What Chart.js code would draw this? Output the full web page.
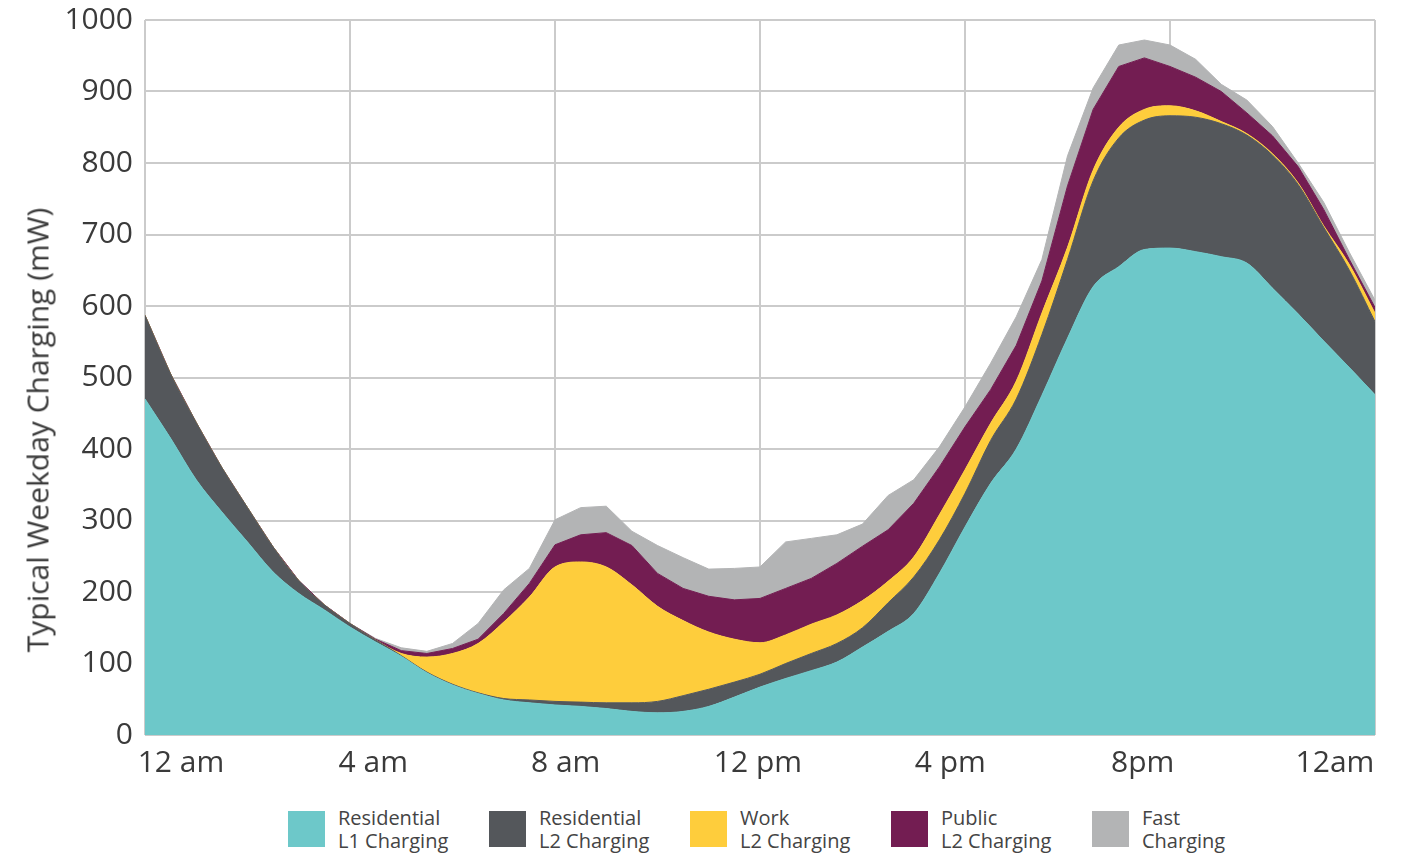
<!DOCTYPE html>
<html>
<head>
<meta charset="utf-8">
<script src="https://cdn.jsdelivr.net/npm/chart.js@4.4.1/dist/chart.umd.min.js"></script>
<style>
    body { margin: 0; background: #fff; font-family: "Open Sans", sans-serif; }
    #wrap { position: relative; width: 1403px; height: 800px; }
    #yTitle {
        position: absolute; left: 37px; top: 430px;
        transform: translate(-50%, -50%) rotate(-90deg);
        white-space: nowrap; font-size: 30px; color: #3a3a3a;
    }
    #legend { position: absolute; top: 806px; left: 288px; display: flex; }
    .item { display: flex; align-items: center; width: 201px; }
    .sw { width: 37px; height: 36px; margin-right: 13px; flex: none; }
    .txt { font-size: 20px; line-height: 23px; color: #444; }
</style>
</head>
<body>
<div id="wrap">
    <canvas id="chargingChart"></canvas>
    <div id="yTitle">Typical Weekday Charging (mW)</div>
</div>
<div id="legend"></div>

<script>
// hour of day, every half hour
const hours = [0, 0.5, 1, 1.5, 2, 2.5, 3, 3.5, 4, 4.5, 5, 5.5, 6, 6.5, 7, 7.5, 8, 8.5, 9, 9.5,
    10, 10.5, 11, 11.5, 12, 12.5, 13, 13.5, 14, 14.5, 15, 15.5, 16, 16.5, 17, 17.5, 18, 18.5,
    19, 19.5, 20, 20.5, 21, 21.5, 22, 22.5, 23, 23.5, 24];

const xTickLabels = ["12 am", "4 am", "8 am", "12 pm", "4 pm", "8pm", "12am"];

// values in mW (each layer's own thickness)
const residentialL1 = [470, 415, 357, 312, 270, 228, 198, 175, 151, 130, 110, 87, 70, 58, 49, 45, 42, 40, 37, 33,
    31, 33, 40, 53, 67, 79, 90, 102, 123, 145, 170, 226, 291, 352, 400, 475, 555, 627,
    655, 679, 681, 676, 669, 660, 625, 589, 551, 514, 476];
const residentialL2 = [117, 90, 80, 62, 48, 35, 18, 7, 5, 3, 1, 1, 1, 1, 2, 4, 5, 6, 8, 12,
    16, 22, 24, 21, 18, 21, 24, 26, 27, 40, 51, 47, 47, 60, 70, 85, 110, 148,
    180, 181, 185, 188, 186, 179, 186, 181, 159, 136, 102];
const workL2 = [0, 0, 0, 0, 0, 0, 0, 0, 0, 0, 3, 21, 43, 69, 107, 144, 188, 196, 190, 165,
    133, 105, 80, 60, 44, 40, 41, 40, 38, 30, 28, 35, 33, 24, 25, 30, 17, 15,
    15, 15, 14, 9, 3, 2, 2, 2, 2, 8, 12];
const publicL2 = [0, 0, 0, 0, 0, 0, 0, 0, 0, 1, 4, 5, 7, 6, 12, 19, 31, 38, 48, 55,
    46, 45, 50, 55, 62, 65, 64, 72, 76, 72, 75, 67, 60, 47, 50, 45, 86, 85,
    85, 72, 55, 47, 42, 29, 25, 23, 23, 7, 8];
const fastCharging = [0, 0, 0, 0, 0, 0, 0, 0, 0, 1, 4, 3, 7, 22, 33, 21, 35, 38, 37, 20,
    39, 43, 38, 44, 44, 65, 56, 40, 31, 48, 33, 28, 28, 37, 40, 30, 42, 30,
    30, 25, 30, 25, 10, 18, 13, 5, 10, 10, 10];

const series = [
    { name: ["Residential", "L1 Charging"], data: residentialL1, color: "#6dc8c9", smooth: true },
    { name: ["Residential", "L2 Charging"], data: residentialL2, color: "#54575b", smooth: true },
    { name: ["Work", "L2 Charging"], data: workL2, color: "#fecd3c", smooth: true },
    { name: ["Public", "L2 Charging"], data: publicL2, color: "#731d52", smooth: false },
    { name: ["Fast", "Charging"], data: fastCharging, color: "#b3b4b5", smooth: false }
];

const gridColor = "#cbcbcb";
const textColor = "#3a3a3a";
const tickFont = { family: "'Open Sans', sans-serif", size: 30 };

const ctx = document.getElementById("chargingChart").getContext("2d");
const chargingChart = new Chart(ctx, {
    type: "line",
    data: {
        labels: hours,
        datasets: series.map((s, i) => ({
            label: s.name.join(" "),
            data: s.data,
            backgroundColor: s.color,
            borderColor: s.color,
            borderWidth: 1,
            pointRadius: 0,
            cubicInterpolationMode: s.smooth ? "monotone" : "default",
            tension: s.smooth ? 0.4 : 0,
            fill: i === 0 ? "origin" : "-1"
        }))
    },
    options: {
        responsive: true,
        maintainAspectRatio: false,
        animation: false,
        layout: { padding: { top: 20, right: 28, left: 0, bottom: 0 } },
        plugins: {
            legend: { display: false },
            tooltip: { enabled: false }
        },
        scales: {
            x: {
                type: "linear",
                min: 0,
                max: 24,
                ticks: { display: false, stepSize: 4 },
                grid: { color: gridColor, lineWidth: 2, drawTicks: false },
                border: { display: false },
                afterFit: (scale) => { scale.height = 0; }
            },
            xl: {
                type: "linear",
                position: "bottom",
                min: -0.187,
                max: 6.208,
                grid: { display: false, drawTicks: false },
                border: { display: false },
                ticks: {
                    font: tickFont,
                    color: textColor,
                    padding: 10,
                    maxRotation: 0,
                    autoSkip: false,
                    callback: (v) => xTickLabels[v]
                },
                afterBuildTicks: (scale) => {
                    scale.ticks = xTickLabels.map((t, i) => ({ value: i }));
                },
                afterFit: (scale) => { scale.height = 65; }
            },
            y: {
                stacked: true,
                min: 0,
                max: 1000,
                ticks: {
                    stepSize: 100,
                    font: tickFont,
                    color: textColor,
                    padding: 12,
                    callback: (v) => String(v)
                },
                grid: { color: gridColor, lineWidth: 2, drawTicks: false },
                border: { display: false },
                afterFit: (scale) => {
                    scale.width = 145;
                    scale.paddingTop = 0;
                    scale.paddingBottom = 0;
                }
            }
        }
    }
});

// legend with two-line labels
const legendEl = document.getElementById("legend");
series.forEach(s => {
    const item = document.createElement("div");
    item.className = "item";
    item.innerHTML = '<div class="sw" style="background:' + s.color + '"></div>' +
        '<div class="txt">' + s.name[0] + "<br>" + s.name[1] + "</div>";
    legendEl.appendChild(item);
});
</script>
</body>
</html>
